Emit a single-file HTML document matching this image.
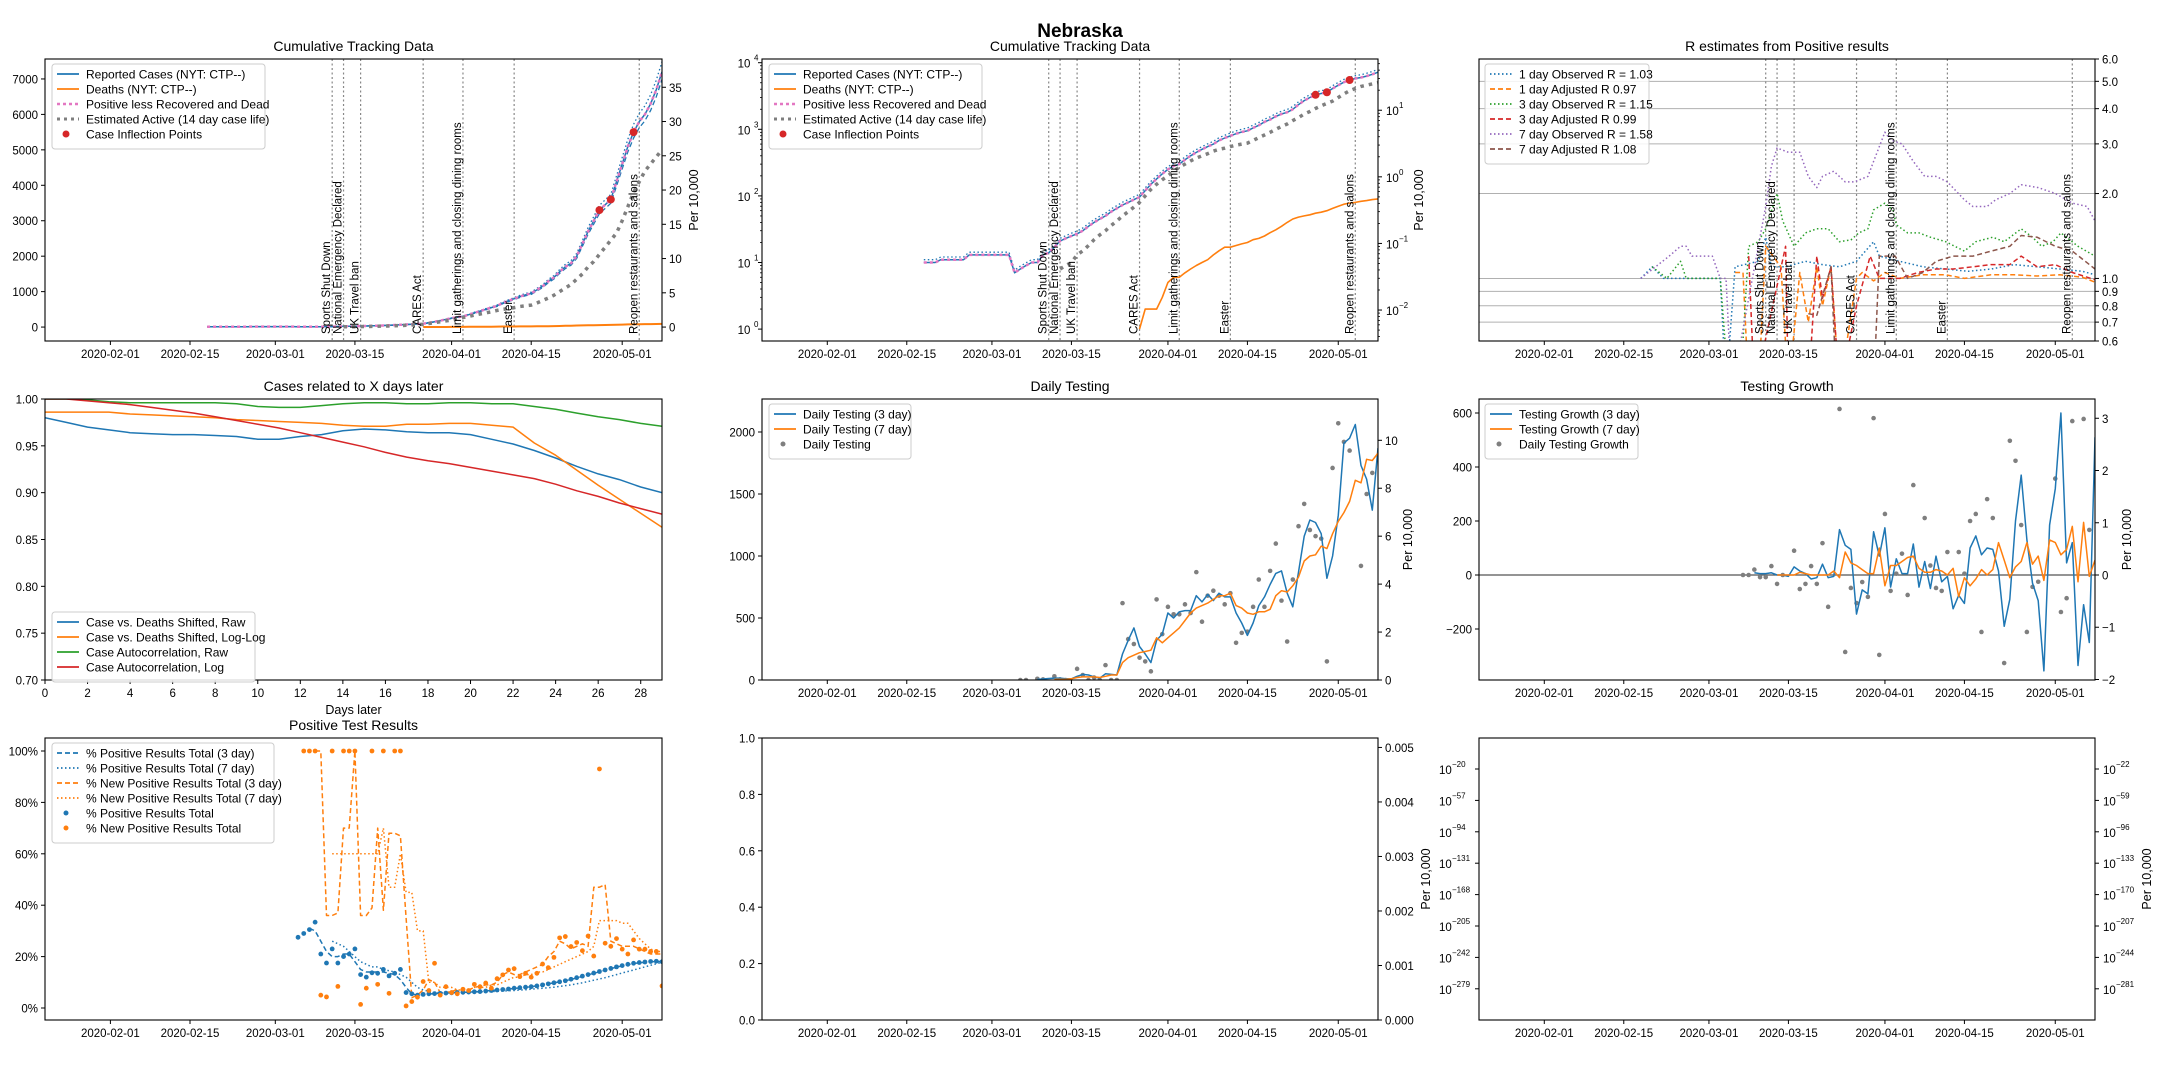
<!DOCTYPE html>
<html><head><meta charset="utf-8"><title>Nebraska</title>
<style>
html,body{margin:0;padding:0;background:#fff;}
svg{display:block;font-family:"Liberation Sans","DejaVu Sans",sans-serif;}
text{fill:#000;}
</style></head>
<body>
<svg id="chart" width="2160" height="1080" viewBox="0 0 2160 1080" xmlns="http://www.w3.org/2000/svg">
<defs id="defs"></defs>
<rect x="0" y="0" width="2160" height="1080" fill="#fff"/>
<text x="1080" y="37" text-anchor="middle" font-size="19" font-weight="bold">Nebraska</text>
</svg>
<script>
// ---------------- DATA ----------------
const dateTickDays=[0,14,29,43,60,74,90];
const dateTickLabels=["2020-02-01","2020-02-15","2020-03-01","2020-03-15","2020-04-01","2020-04-15","2020-05-01"];
const eventDays=[39,41,44,55,62,71,93];
const eventLabels=["Sports Shut Down","National Emergency Declared","UK Travel ban","CARES Act","Limit gatherings and closing dining rooms","Easter","Reopen restaurants and salons"];
// cumulative
const casesStart=17;
const casesVals=[10,10,10,11,11,11,11,11,13,13,13,13,13,13,13,13,7,8,9,10,10,13,14,17,21,23,25,27,30,35,40,45,50,58,65,73,80,88,96,120,150,180,215,250,280,300,350,400,450,500,550,600,680,740,800,860,910,950,1050,1150,1290,1400,1560,1700,1800,2000,2350,2700,3000,3300,3450,3600,4100,4600,5100,5500,5800,6000,6300,6700,7200];
const deathsStart=55;
const deathsVals=[1,2,2,2,3,5,6,6,7,8,9,10,11,13,15,17,17,18,19,20,22,23,25,28,31,35,40,45,48,50,52,55,57,60,65,70,75,78,80,83,85,88,90];
const activeStart=41;
const activeVals=[8,9,10,13,15,18,22,26,30,36,42,50,58,68,80,100,125,150,175,200,235,270,300,335,370,400,430,470,500,520,550,580,600,620,680,750,820,900,1000,1100,1200,1350,1500,1700,1850,2050,2250,2450,2650,3000,3400,3800,4100,4400,4600,4800,5000];
const inflectDays=[86,88,92];
const inflectVals=[3300,3600,5500];
// R estimates
const r1ObsDays=[17,19,21,23,31,32,33.6,37.7,39,40,42.5,46,49,52,55,58,59,62.6,66.7,70.7,74.7,78.7,82.8,86.8,90.8,94.8,97];
const r1ObsVals=[1.0,1.1,1.0,1.0,1.0,0.4,1.1,1.15,1.4,1.1,1.1,1.15,1.12,1.1,1.15,1.35,1.2,1.15,1.1,1.08,1.06,1.08,1.12,1.1,1.08,1.06,1.03];
const r1AdjDays=[33.6,35,36,37.7,39,41.7,43,45,46.5,48,49,50.5,52,55,56,58,60,62.6,66.7,70.7,74,78.7,82.8,86.8,90.8,94.8,97];
const r1AdjVals=[1.05,1.05,0.4,0.4,1.3,1.1,0.4,1.05,0.7,1.1,0.8,1.1,0.4,1.0,1.05,0.98,1.05,1.0,1.03,1.03,1.0,1.03,1.03,1.02,1.03,1.01,0.97];
const r3ObsDays=[19,21.6,24,25,31,32.5,35,36,37.7,39,41,42,44,46,48,50,52,54,55.4,57,58,60,61.4,62,64,66,68,70.7,74,76,79,81,84,86,87.6,89.6,91,94,97];
const r3ObsVals=[1.1,1.0,1.15,1.0,1.0,0.4,0.6,1.3,1.35,1.5,2.0,1.6,1.3,1.45,1.5,1.5,1.35,1.37,1.45,1.5,1.75,1.85,1.75,1.55,1.45,1.45,1.4,1.35,1.25,1.35,1.4,1.35,1.5,1.4,1.3,1.35,1.45,1.3,1.2];
const r3AdjDays=[36,37,42.5,43,46.5,48,49,50.5,52,55,57.4,59,62.6,65.8,69,72,75.5,78.7,82,84,86.8,90,93,97];
const r3AdjVals=[1.2,0.4,1.3,0.4,0.4,1.2,0.85,1.1,0.4,0.8,1.2,1.0,1.0,1.05,1.08,1.08,1.1,1.12,1.12,1.2,1.1,1.12,1.05,0.99];
const r7ObsDays=[17,22,24,25,26,29.6,31,32,33,39,40,41,43,45,46.5,48,49,51,53,54.6,57,58,60,61,63,65,67,69,71,74,75.5,78,79.5,82,84,87,90,93,95.6,97];
const r7ObsVals=[1.0,1.2,1.3,1.3,1.2,1.2,1.0,1.0,0.4,1.8,2.5,2.9,2.8,2.8,2.3,2.1,2.3,2.4,2.2,2.2,2.3,2.6,3.3,3.1,3.0,2.6,2.3,2.3,2.2,1.9,1.8,1.8,1.9,2.0,2.15,2.1,2.0,1.85,1.8,1.6];
const r7AdjDays=[46.5,48,50.5,51.5,58,59,61.8,64,66.7,69,72,75.5,78.7,82,84,86.8,90,93,97];
const r7AdjVals=[0.75,0.74,1.1,0.4,0.4,1.2,1.2,1.0,1.05,1.15,1.2,1.2,1.25,1.3,1.42,1.4,1.3,1.25,1.08];
const rTickVals=[6,5,4,3,2,1,0.9,0.8,0.7,0.6];
const rTickLabels=["6.0","5.0","4.0","3.0","2.0","1.0","0.9","0.8","0.7","0.6"];
// correlation
const lagDays=[0,1,2,3,4,5,6,7,8,9,10,11,12,13,14,15,16,17,18,19,20,21,22,23,24,25,26,27,28,29];
const corrRaw=[0.980,0.975,0.970,0.967,0.964,0.963,0.962,0.962,0.961,0.960,0.957,0.957,0.960,0.962,0.966,0.968,0.967,0.965,0.964,0.964,0.962,0.957,0.952,0.945,0.937,0.928,0.920,0.914,0.906,0.900];
const corrLogLog=[0.986,0.986,0.986,0.986,0.984,0.983,0.982,0.981,0.980,0.978,0.977,0.976,0.975,0.974,0.972,0.971,0.971,0.973,0.973,0.974,0.974,0.972,0.970,0.953,0.940,0.924,0.908,0.893,0.878,0.863];
const autoRaw=[1.000,1.000,0.999,0.997,0.996,0.996,0.996,0.996,0.996,0.995,0.992,0.991,0.991,0.993,0.995,0.996,0.996,0.995,0.995,0.996,0.996,0.995,0.995,0.992,0.989,0.985,0.981,0.978,0.974,0.971];
const autoLog=[1.000,1.000,0.998,0.996,0.994,0.991,0.988,0.985,0.981,0.977,0.973,0.969,0.964,0.959,0.954,0.949,0.943,0.938,0.934,0.931,0.927,0.923,0.919,0.915,0.909,0.902,0.896,0.889,0.883,0.877];
// daily testing
const testDotDays=[34,35,37,38,40,41,42,44,45,46,47,48,49,50,51,52,53,54,55,56,57,58,59,60,61,62,63,64,65,66,67,68,69,70,71,72,73,74,75,76,77,78,79,80,81,82,83,84,85,86,87,88,89,90,91,92,93,94,95,96];
const testDotVals=[0,0,10,5,30,5,0,90,40,0,20,0,120,0,0,620,330,290,180,150,70,650,370,590,530,530,610,540,870,470,680,720,680,610,700,300,380,390,590,810,590,880,1100,640,310,810,1240,1420,1210,1160,1140,150,1710,2070,1920,1850,2300,920,1500,1670];
const test3Start=37;
const test3Vals=[5,8,12,15,15,10,10,30,45,40,25,15,50,45,40,210,320,420,270,210,140,320,370,540,500,550,560,560,680,630,690,640,700,670,670,540,460,360,460,600,670,770,860,880,700,590,870,1160,1290,1270,1180,820,1000,1330,1910,1950,2060,1730,1620,1370,1870];
const test7Start=40;
const test7Vals=[5,5,5,10,20,25,25,25,20,30,40,40,140,180,200,220,230,240,340,300,340,380,420,480,540,580,600,620,650,680,680,700,600,580,540,530,550,550,570,680,720,710,760,830,960,1000,1010,1080,1060,1180,1280,1350,1440,1610,1590,1780,1770,1830];
// testing growth
const growthDotDays=[35,36,37,38,39,40,41,42,44,45,46,47,48,49,50,52,53,54,55,56,57,58,59,60,61,62,63,64,65,67,68,69,70,71,73,74,75,76,77,78,79,81,82,83,84,85,86,87,90,91,92,93,95,96];
const growthDotVals=[0,0,20,-8,-8,33,-33,0,90,-52,-33,33,-33,118,-118,615,-285,-48,-104,-26,-81,581,-296,226,-59,5,79,-74,333,211,35,-48,-59,85,85,5,200,226,-211,281,211,-326,497,423,185,-211,-44,-25,357,-137,-86,570,578,167];
const growth3Start=37;
const growth3Vals=[8,5,5,8,0,0,-5,30,15,5,-15,-10,40,-10,-5,168,110,95,-145,-55,-70,160,70,175,-45,60,5,5,115,-45,50,-50,70,-25,-5,-125,-75,-105,100,145,75,100,95,15,-190,-90,200,370,130,-30,-95,-355,185,320,600,45,120,-335,-110,-250,510];
const growth7Start=41;
const growth7Vals=[0,0,0,0,10,5,0,0,0,0,15,-10,85,45,35,20,5,5,100,-40,35,35,50,65,70,25,10,10,20,15,0,25,-80,-10,-40,-15,20,0,20,120,55,-10,30,50,120,40,70,-20,130,120,75,95,180,-25,195,-5,55];
// positive results (%)
const posTotStart=33;
const posTotVals=[27.5,29,30.5,33.4,21,17.5,23,17.5,20,21,23,13,12,13.7,13.5,15,12.5,13.5,15,6,5.5,5,5.3,5.5,5.6,5.7,5.8,5.9,6.0,6.1,6.2,6.3,6.4,6.6,6.8,7.0,7.2,7.4,7.7,7.9,8.1,8.3,8.6,9.0,9.4,9.8,10.2,10.6,11.2,11.8,12.4,13.0,13.6,14.2,14.8,15.4,16.0,16.5,17.0,17.4,17.7,17.9,18.1,18.2,18.0];
const newPosStart=34;
const newPosVals=[100,100,100,5,4.3,100,8.4,100,100,100,1.4,7.7,100,9.2,100,5.7,100,100,0.8,2.5,4.2,10.3,6.8,17.4,5,8.3,6,5.5,7.3,6.8,9.2,8.3,9.7,7.7,11.4,12.9,14.8,15.3,12.2,13.5,12,13.5,17.1,15.7,19.7,27.3,27.8,23.9,25.5,22.3,28,20.2,93,25.2,24,27,22.9,21,26.5,22.9,22.9,22,22,8.6];
const newPos3Start=36;
const newPos3Vals=[100,100,36,36,37,70,70,100,36,36,39,70,38,68,68,67,35,4,5,7,11,10,6,6,6.5,7,7,7,8,8.5,9,9,10,13,14,13,13,14,15,16,17,20,22,26,25,23,24,25,24,47,47,48,26,25,24,24,24,23,22,21,21,21];
const newPos7Start=39;
const newPos7Vals=[60,60,60,60,60,60,60,60,60,70,47,47,60,45,45,30,30,10,10,8,8,8,7,7,7,8,8,8,9,9,10,11,12,12,13,13,14,14,15,16,17,18,19,20,21,22,24,34,34,34,34,33,33,30,27,25,23,22,22];
const posTot3Start=35;
const posTot3Vals=[31,30,26,22,20,20,21,21,18,15,14,14,14,14,13.5,13,11,8,5.5,5,5.2,5.4,5.6,5.7,5.8,5.9,6.0,6.1,6.2,6.3,6.4,6.6,6.8,7.0,7.2,7.4,7.6,7.8,8.0,8.3,8.6,9.0,9.4,9.8,10.2,10.6,11.1,11.7,12.3,12.9,13.5,14.1,14.7,15.3,15.9,16.4,16.9,17.3,17.6,17.8,18.0,18.1,18.1];
const posTot7Start=39;
const posTot7Vals=[26,25,24,22,20,18,17,16,16,15,14.5,14,13,12,10,8,7,6.5,6,6,5.9,6.0,6.0,6.1,6.1,6.2,6.3,6.3,6.4,6.5,6.6,6.7,6.8,7.0,7.1,7.3,7.5,7.7,7.9,8.1,8.4,8.7,9.0,9.4,9.8,10.3,10.8,11.3,11.8,12.4,13.0,13.6,14.2,14.8,15.4,16.0,16.6,17.2,17.8];
const logEmptyLeft=["-20","-57","-94","-131","-168","-205","-242","-279"];
const logEmptyRight=["-22","-59","-96","-133","-170","-207","-244","-281"];

// ---------------- DRAWING ----------------
const NS="http://www.w3.org/2000/svg";
const svg=document.getElementById('chart');
const defs=document.getElementById('defs');
const C={blue:"#1f77b4",orange:"#ff7f0e",green:"#2ca02c",red:"#d62728",purple:"#9467bd",brown:"#8c564b",pink:"#e377c2",gray:"#7f7f7f"};
const POP=193.3;
const D0=-11.5,D1=97.0;
const TFS='11.5';
function mk(tag,parent){const e=document.createElementNS(NS,tag);parent.appendChild(e);return e;}
function at(e,a){for(const k in a)e.setAttribute(k,a[k]);return e;}
function txt(parent,x,y,s,a){const t=mk('text',parent);at(t,Object.assign({x:x,y:y},a||{}));t.textContent=s;return t;}
function seq(start,n){const r=[];for(let i=0;i<n;i++)r.push(start+i);return r;}
function pathD(days,vals,xf,yf){let d="";for(let i=0;i<days.length;i++){const v=vals[i];if(v===null||v===undefined)continue;d+=(d?"L":"M")+xf(days[i]).toFixed(1)+","+yf(v).toFixed(1);}return d;}

const B={
 A:{x:45,y:59,w:617,h:282},B:{x:762,y:59,w:616,h:282},C:{x:1479,y:59,w:616,h:282},
 D:{x:45,y:399,w:617,h:281},E:{x:762,y:399,w:616,h:281},F:{x:1479,y:399,w:616,h:281},
 G:{x:45,y:738,w:617,h:282},H:{x:762,y:738,w:616,h:282},I:{x:1479,y:738,w:616,h:282}
};
function dateX(b){return d=>b.x+(d-D0)/(D1-D0)*b.w;}

function panel(key,name,title){
 const b=B[key];
 const g=mk('g',svg);
 
 
 const cp=mk('clipPath',defs);cp.id='clip'+key;
 at(mk('rect',cp),{x:b.x,y:b.y,width:b.w,height:b.h});
 const plot=mk('g',g);plot.setAttribute('clip-path','url(#clip'+key+')');
 
 
 if(title){const t=txt(g,b.x+b.w/2,b.y-8,title,{'text-anchor':'middle','font-size':'14'});
 
 }
 return {g:g,plot:plot,b:b};
}
function frame(P){const r=at(mk('rect',P.g),{x:P.b.x,y:P.b.y,width:P.b.w,height:P.b.h,fill:'none',stroke:'#000','stroke-width':'1.1'});
 
 }
function xTicks(P,xf,days,labels){
 const b=P.b;
 for(let i=0;i<days.length;i++){const x=xf(days[i]);
  at(mk('line',P.g),{x1:x,y1:b.y+b.h,x2:x,y2:b.y+b.h+4,stroke:'#000'});
  const t=txt(P.g,x,b.y+b.h+17,labels[i],{'text-anchor':'middle','font-size':TFS});
  
  }
}
function yTicks(P,yf,vals,labels,side){
 const b=P.b;const x0=side==='right'?b.x+b.w:b.x;const dir=side==='right'?1:-1;
 for(let i=0;i<vals.length;i++){const y=yf(vals[i]);
  at(mk('line',P.g),{x1:x0,y1:y,x2:x0+dir*4,y2:y,stroke:'#000'});
  const t=txt(P.g,x0+dir*7,y+4.5,labels[i],{'text-anchor':side==='right'?'start':'end','font-size':TFS});
  
  }
}
function minorLog(P,yf,lo,hi,side){
 const b=P.b;const x0=side==='right'?b.x+b.w:b.x;const dir=side==='right'?1:-1;
 for(let e=lo;e<=hi;e++)for(let k=2;k<=9;k++){const y=yf(k*Math.pow(10,e));if(y<b.y||y>b.y+b.h)continue;
  at(mk('line',P.g),{x1:x0,y1:y,x2:x0+dir*2,y2:y,stroke:'#000','stroke-width':'0.8'});}
}
function rightLabel(P,dx){const b=P.b;const x=b.x+b.w+dx,y=b.y+b.h/2;
 const t=txt(P.g,x,y,'Per 10,000',{'text-anchor':'middle','font-size':'12.5',transform:'rotate(-90 '+x+' '+y+')'});
 
 }
function events(P,xf){
 const b=P.b;
 for(let i=0;i<eventDays.length;i++){const x=xf(eventDays[i]);
  const l=at(mk('line',P.plot),{x1:x,y1:b.y,x2:x,y2:b.y+b.h,stroke:'#888','stroke-width':'1.2','stroke-dasharray':'2 2.5'});
  
  
  const tx=x-2,ty=b.y+b.h-7;
  const t=txt(P.g,tx,ty,eventLabels[i],{'font-size':'11.5',transform:'rotate(-90 '+tx+' '+ty+')'});
  
  }
}
function line(P,days,vals,xf,yf,color,opt){
 opt=opt||{};
 const p=at(mk('path',P.plot),{d:pathD(days,vals,xf,yf),fill:'none',stroke:color,'stroke-width':opt.w||1.5,'stroke-linejoin':'round'});
 if(opt.dash)p.setAttribute('stroke-dasharray',opt.dash);
 return p;
}
function dots(P,days,vals,xf,yf,color,r){
 const g=mk('g',P.plot);
 for(let i=0;i<days.length;i++){const c=at(mk('circle',g),{cx:xf(days[i]),cy:yf(vals[i]),r:r||2.3,fill:color});
  
  }
 return g;
}
function legend(P,x,y,w,rowY,entries){
 const g=mk('g',P.g);
 
 
 const h=entries.length*rowY+10;
 at(mk('rect',g),{x:x,y:y,width:w,height:h,rx:3,fill:'#fff','fill-opacity':'0.85',stroke:'#ccc'});
 entries.forEach((e,i)=>{const cy=y+10+i*rowY;
  if(e.dot){at(mk('circle',g),{cx:x+14,cy:cy,r:e.r||2.5,fill:e.color});}
  else{const l=at(mk('line',g),{x1:x+5,y1:cy,x2:x+27,y2:cy,stroke:e.color,'stroke-width':e.w||1.8});if(e.dash)l.setAttribute('stroke-dasharray',e.dash);}
  const t=txt(g,x+34,cy+4.5,e.label,{'font-size':'12'});
  
  });
}
const DOT="1.5 2.5",DASH="5 3",PINK="3 3",GRAYD="3.5 5";

// ---- Panel A: Cumulative linear ----
(function(){
 const P=panel('A','cumulative-linear-panel','Cumulative Tracking Data');const b=P.b;
 const xf=dateX(b);const yf=v=>b.y+b.h-(v+393)/(7563+393)*b.h;
 events(P,xf);
 const cd=seq(casesStart,casesVals.length);
 line(P,cd,casesVals,xf,yf,C.blue,{w:1.5});
 line(P,cd,casesVals.map(v=>v*1.04),xf,yf,C.blue,{w:1.3,dash:DOT});
 line(P,cd,casesVals.map(v=>v*0.97),xf,yf,C.blue,{w:1.3,dash:DASH});
 line(P,seq(deathsStart,deathsVals.length),deathsVals,xf,yf,C.orange,{w:2});
 line(P,cd,casesVals,xf,yf,C.pink,{w:2.5,dash:PINK});
 line(P,seq(activeStart,activeVals.length),activeVals,xf,yf,C.gray,{w:3.5,dash:GRAYD});
 dots(P,inflectDays,inflectVals,xf,yf,C.red,4);
 frame(P);
 xTicks(P,xf,dateTickDays,dateTickLabels);
 yTicks(P,yf,[0,1000,2000,3000,4000,5000,6000,7000],["0","1000","2000","3000","4000","5000","6000","7000"],'left');
 yTicks(P,v=>yf(v*POP),[0,5,10,15,20,25,30,35],["0","5","10","15","20","25","30","35"],'right');
 rightLabel(P,36);
 legend(P,52,64,213,15,[{label:'Reported Cases  (NYT: CTP--)',color:C.blue},{label:'Deaths (NYT: CTP--)',color:C.orange},{label:'Positive less Recovered and Dead',color:C.pink,dash:PINK,w:2.5},{label:'Estimated Active (14 day case life)',color:C.gray,dash:'3 4',w:3},{label:'Case Inflection Points',color:C.red,dot:true,r:3.5}]);
})();

// ---- Panel B: Cumulative log ----
(function(){
 const P=panel('B','cumulative-log-panel','Cumulative Tracking Data');const b=P.b;
 const xf=dateX(b);const yf=v=>v>0?62.7+(4-Math.log10(v))*66.6:9999;
 events(P,xf);
 const cd=seq(casesStart,casesVals.length);
 line(P,cd,casesVals,xf,yf,C.blue,{w:1.5});
 line(P,cd,casesVals.map(v=>v*1.1),xf,yf,C.blue,{w:1.3,dash:DOT});
 line(P,seq(deathsStart,deathsVals.length),deathsVals,xf,yf,C.orange,{w:1.6});
 line(P,cd,casesVals,xf,yf,C.pink,{w:2.5,dash:PINK});
 line(P,seq(activeStart,activeVals.length),activeVals,xf,yf,C.gray,{w:3.5,dash:GRAYD});
 dots(P,inflectDays,inflectVals,xf,yf,C.red,4);
 frame(P);
 xTicks(P,xf,dateTickDays,dateTickLabels);
 const lg=P.g;
 [0,1,2,3,4].forEach(e=>{const y=yf(Math.pow(10,e));
  at(mk('line',lg),{x1:b.x,y1:y,x2:b.x-4,y2:y,stroke:'#000'});
  const t=txt(lg,b.x-18,y+5,'10',{'text-anchor':'middle','font-size':TFS});
  
  
  txt(lg,b.x-8,y-2,String(e),{'font-size':'8'});});
 minorLog(P,yf,0,3,'left');
 const yr=p=>yf(p*POP);
 [-2,-1,0,1].forEach(e=>{const y=yr(Math.pow(10,e));
  at(mk('line',lg),{x1:b.x+b.w,y1:y,x2:b.x+b.w+4,y2:y,stroke:'#000'});
  const t=txt(lg,b.x+b.w+8,y+5,'10',{'font-size':TFS});
  
  
  txt(lg,b.x+b.w+21,y-2,String(e).replace('-','\u2212'),{'font-size':'8'});});
 minorLog(P,yr,-3,1,'right');
 rightLabel(P,45);
 legend(P,769,64,213,15,[{label:'Reported Cases  (NYT: CTP--)',color:C.blue},{label:'Deaths (NYT: CTP--)',color:C.orange},{label:'Positive less Recovered and Dead',color:C.pink,dash:PINK,w:2.5},{label:'Estimated Active (14 day case life)',color:C.gray,dash:'3 4',w:3},{label:'Case Inflection Points',color:C.red,dot:true,r:3.5}]);
})();

// ---- Panel C: R estimates ----
(function(){
 const P=panel('C','r-estimates-panel','R estimates from Positive results');const b=P.b;
 const xf=dateX(b);const yf=v=>b.y+(Math.log10(6)-Math.log10(v))*b.h;
 rTickVals.forEach(v=>{const y=yf(v);const l=at(mk('line',P.plot),{x1:b.x,y1:y,x2:b.x+b.w,y2:y,stroke:'#b0b0b0','stroke-width':'1'});
  
  });
 events(P,xf);
 line(P,r1ObsDays,r1ObsVals,xf,yf,C.blue,{dash:DOT});
 line(P,r1AdjDays,r1AdjVals,xf,yf,C.orange,{dash:DASH});
 line(P,r3ObsDays,r3ObsVals,xf,yf,C.green,{dash:DOT});
 line(P,r3AdjDays,r3AdjVals,xf,yf,C.red,{dash:DASH});
 line(P,r7ObsDays,r7ObsVals,xf,yf,C.purple,{dash:DOT});
 line(P,r7AdjDays,r7AdjVals,xf,yf,C.brown,{dash:DASH});
 frame(P);
 xTicks(P,xf,dateTickDays,dateTickLabels);
 yTicks(P,yf,rTickVals,rTickLabels,'right');
 legend(P,1485,64,164,15,[{label:'1 day Observed R = 1.03',color:C.blue,dash:DOT},{label:'1 day Adjusted R 0.97',color:C.orange,dash:DASH},{label:'3 day Observed R = 1.15',color:C.green,dash:DOT},{label:'3 day Adjusted R 0.99',color:C.red,dash:DASH},{label:'7 day Observed R = 1.58',color:C.purple,dash:DOT},{label:'7 day Adjusted R 1.08',color:C.brown,dash:DASH}]);
})();

// ---- Panel D: correlation ----
(function(){
 const P=panel('D','correlation-panel','Cases related to X days later');const b=P.b;
 const xf=d=>b.x+d/29*b.w;const yf=v=>b.y+(1-v)/0.3*b.h;
 line(P,lagDays,corrRaw,xf,yf,C.blue);
 line(P,lagDays,corrLogLog,xf,yf,C.orange);
 line(P,lagDays,autoRaw,xf,yf,C.green);
 line(P,lagDays,autoLog,xf,yf,C.red);
 frame(P);
 const tk=[0,2,4,6,8,10,12,14,16,18,20,22,24,26,28];
 xTicks(P,xf,tk,tk.map(String));
 yTicks(P,yf,[0.7,0.75,0.8,0.85,0.9,0.95,1.0],["0.70","0.75","0.80","0.85","0.90","0.95","1.00"],'left');
 const t=txt(P.g,b.x+b.w/2,b.y+b.h+34,'Days later',{'text-anchor':'middle','font-size':'12.5'});
 
 
 legend(P,52,612,203,15,[{label:'Case vs. Deaths Shifted, Raw',color:C.blue},{label:'Case vs. Deaths Shifted, Log-Log',color:C.orange},{label:'Case Autocorrelation, Raw',color:C.green},{label:'Case Autocorrelation, Log',color:C.red}]);
})();

// ---- Panel E: daily testing ----
(function(){
 const P=panel('E','daily-testing-panel','Daily Testing');const b=P.b;
 const xf=dateX(b);const yf=v=>b.y+b.h-v/2266*b.h;
 dots(P,testDotDays,testDotVals,xf,yf,C.gray,2.3);
 line(P,seq(test3Start,test3Vals.length),test3Vals,xf,yf,C.blue);
 line(P,seq(test7Start,test7Vals.length),test7Vals,xf,yf,C.orange);
 frame(P);
 xTicks(P,xf,dateTickDays,dateTickLabels);
 yTicks(P,yf,[0,500,1000,1500,2000],["0","500","1000","1500","2000"],'left');
 yTicks(P,v=>yf(v*POP),[0,2,4,6,8,10],["0","2","4","6","8","10"],'right');
 rightLabel(P,34);
 legend(P,769,404,142,15,[{label:'Daily Testing (3 day)',color:C.blue},{label:'Daily Testing (7 day)',color:C.orange},{label:'Daily Testing',color:C.gray,dot:true}]);
})();

// ---- Panel F: testing growth ----
(function(){
 const P=panel('F','testing-growth-panel','Testing Growth');const b=P.b;
 const xf=dateX(b);const yf=v=>575-v*0.27;
 const z=at(mk('line',P.plot),{x1:b.x,y1:yf(0),x2:b.x+b.w,y2:yf(0),stroke:'#555','stroke-width':'1.2'});
 
 
 dots(P,growthDotDays,growthDotVals,xf,yf,C.gray,2.3);
 line(P,seq(growth3Start,growth3Vals.length),growth3Vals,xf,yf,C.blue);
 line(P,seq(growth7Start,growth7Vals.length),growth7Vals,xf,yf,C.orange);
 frame(P);
 xTicks(P,xf,dateTickDays,dateTickLabels);
 yTicks(P,yf,[-200,0,200,400,600],["\u2212200","0","200","400","600"],'left');
 yTicks(P,v=>yf(v*193.5),[-2,-1,0,1,2,3],["\u22122","\u22121","0","1","2","3"],'right');
 rightLabel(P,36);
 legend(P,1485,404,153,15,[{label:'Testing Growth (3 day)',color:C.blue},{label:'Testing Growth (7 day)',color:C.orange},{label:'Daily Testing Growth',color:C.gray,dot:true}]);
})();

// ---- Panel G: positive results ----
(function(){
 const P=panel('G','positive-results-panel','Positive Test Results');const b=P.b;
 const xf=dateX(b);const yf=v=>1008-v*2.57;
 line(P,seq(posTot3Start,posTot3Vals.length),posTot3Vals,xf,yf,C.blue,{dash:DASH});
 line(P,seq(posTot7Start,posTot7Vals.length),posTot7Vals,xf,yf,C.blue,{dash:DOT});
 line(P,seq(newPos3Start,newPos3Vals.length),newPos3Vals,xf,yf,C.orange,{dash:DASH});
 line(P,seq(newPos7Start,newPos7Vals.length),newPos7Vals,xf,yf,C.orange,{dash:DOT});
 dots(P,seq(posTotStart,posTotVals.length),posTotVals,xf,yf,C.blue,2.4);
 dots(P,seq(newPosStart,newPosVals.length),newPosVals,xf,yf,C.orange,2.4);
 frame(P);
 xTicks(P,xf,dateTickDays,dateTickLabels);
 yTicks(P,yf,[0,20,40,60,80,100],["0%","20%","40%","60%","80%","100%"],'left');
 legend(P,52,743,222,15,[{label:'% Positive Results Total (3 day)',color:C.blue,dash:DASH},{label:'% Positive Results Total (7 day)',color:C.blue,dash:DOT},{label:'% New Positive Results Total (3 day)',color:C.orange,dash:DASH},{label:'% New Positive Results Total (7 day)',color:C.orange,dash:DOT},{label:'% Positive Results Total',color:C.blue,dot:true},{label:'% New Positive Results Total',color:C.orange,dot:true}]);
})();

// ---- Panel H: empty linear ----
(function(){
 const P=panel('H','empty-linear-panel','');const b=P.b;
 const xf=dateX(b);const yf=v=>b.y+b.h-v*b.h;
 frame(P);
 xTicks(P,xf,dateTickDays,dateTickLabels);
 yTicks(P,yf,[0,0.2,0.4,0.6,0.8,1.0],["0.0","0.2","0.4","0.6","0.8","1.0"],'left');
 yTicks(P,v=>yf(v*POP),[0,0.001,0.002,0.003,0.004,0.005],["0.000","0.001","0.002","0.003","0.004","0.005"],'right');
 rightLabel(P,52);
})();

// ---- Panel I: empty log ----
(function(){
 const P=panel('I','empty-log-panel','');const b=P.b;
 const xf=dateX(b);
 frame(P);
 xTicks(P,xf,dateTickDays,dateTickLabels);
 for(let i=0;i<logEmptyLeft.length;i++){const y=769+i*31.4;
  at(mk('line',P.g),{x1:b.x,y1:y,x2:b.x-4,y2:y,stroke:'#000'});
  const t=txt(P.g,b.x-40,y+5,'10',{'font-size':TFS});
  
  
  txt(P.g,b.x-27,y-2,logEmptyLeft[i].replace('-','\u2212'),{'font-size':'8'});
  at(mk('line',P.g),{x1:b.x+b.w,y1:y,x2:b.x+b.w+4,y2:y,stroke:'#000'});
  const t2=txt(P.g,b.x+b.w+8,y+5,'10',{'font-size':TFS});
  
  
  txt(P.g,b.x+b.w+21,y-2,logEmptyRight[i].replace('-','\u2212'),{'font-size':'8'});}
 rightLabel(P,56);
})();
</script>
</body></html>
